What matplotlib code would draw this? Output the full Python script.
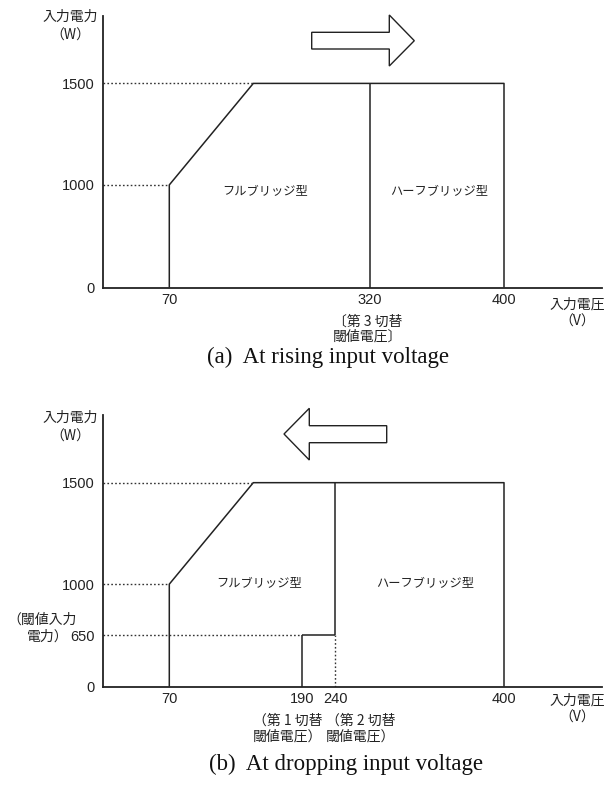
import numpy as np
import matplotlib.pyplot as plt
from matplotlib.patches import Polygon

#
#   Input power vs input voltage, full bridge / half bridge regions
#

W, H = 616, 789
JP = ["Noto Sans CJK JP", "DejaVu Sans"]
NUM = ["Liberation Sans", "DejaVu Sans"]

# data
ramp_v = 150          # knee of the ramp (not labelled)
outline_v = [70, 70, ramp_v, 400, 400]
outline_w = [0, 1000, 1500, 1500, 0]

a_switch_v = 320
a_xticks = [70, 320, 400]
a_yticks = [0, 1000, 1500]

b_switch1_v = 190
b_switch2_v = 240
threshold_w = 650
b_xticks = [70, 190, 240, 400]
b_yticks = [0, 650, 1000, 1500]

# the drawing is schematic: axis positions are piecewise, not linear
volt_anchor = [0, 70, 150, 190, 240, 320, 400, 480]
volt_pos = [0, 66, 150, 199, 231.7, 266.7, 400.7, 498.7]
watt_anchor = [0, 650, 1000, 1500, 1830]
watt_pos = [0, 51.7, 102.6, 204.1, 271.8]


def fwd_x(v):
    return np.interp(v, volt_anchor, volt_pos)


def inv_x(p):
    return np.interp(p, volt_pos, volt_anchor)


def fwd_y(v):
    return np.interp(v, watt_anchor, watt_pos)


def inv_y(p):
    return np.interp(p, watt_pos, watt_anchor)


def fxy(px, py):
    # pixel position in the 616x789 picture -> figure fraction
    return px / W, 1 - py / H


def setup_axes(ax, xticks, yticks):
    ax.set_xscale("function", functions=(fwd_x, inv_x))
    ax.set_yscale("function", functions=(fwd_y, inv_y))
    ax.set_xlim(0, 480)
    ax.set_ylim(0, 1830)
    for s in ["top", "right"]:
        ax.spines[s].set_visible(False)
    for s in ["left", "bottom"]:
        ax.spines[s].set_linewidth(1.3)
        ax.spines[s].set_color("#222222")
    ax.set_xticks(xticks)
    ax.set_xticklabels([str(t) for t in xticks], fontfamily=NUM)
    ax.set_yticks(yticks)
    ax.set_yticklabels([str(t) for t in yticks], fontfamily=NUM)
    ax.tick_params(axis="x", length=0, labelsize=10.5, pad=4, colors="#222222")
    ax.tick_params(axis="y", length=0, labelsize=10.5, pad=6, colors="#222222")
    ax.minorticks_off()


line_kw = dict(color="#222222", lw=1.1, solid_capstyle="butt")
dot_kw = dict(color="#333333", lw=1.0, linestyle=(0, (1.2, 1.6)))

fig = plt.figure(figsize=(W / 100, H / 100), dpi=100)

# ---- (a) rising input voltage
ax1 = fig.add_axes([103.3 / W, 1 - 287.5 / H, 498.7 / W, 271.8 / H])
setup_axes(ax1, a_xticks, a_yticks)
ax1.plot(outline_v, outline_w, **line_kw)
ax1.plot([a_switch_v, a_switch_v], [0, 1500], **line_kw)
ax1.plot([0, 70], [1000, 1000], **dot_kw)
ax1.plot([0, ramp_v], [1500, 1500], **dot_kw)

# ---- (b) dropping input voltage
ax2 = fig.add_axes([103.3 / W, 1 - 686.7 / H, 498.7 / W, 271.7 / H])
setup_axes(ax2, b_xticks, b_yticks)
ax2.plot(outline_v, outline_w, **line_kw)
ax2.plot([b_switch2_v, b_switch2_v], [threshold_w, 1500], **line_kw)
ax2.plot([b_switch1_v, b_switch2_v], [threshold_w, threshold_w], **line_kw)
ax2.plot([b_switch1_v, b_switch1_v], [0, threshold_w], **line_kw)
ax2.plot([b_switch2_v, b_switch2_v], [0, threshold_w], **dot_kw)
ax2.plot([0, b_switch1_v], [threshold_w, threshold_w], **dot_kw)
ax2.plot([0, 70], [1000, 1000], **dot_kw)
ax2.plot([0, ramp_v], [1500, 1500], **dot_kw)

# region labels
for px, py, s in [(265.6, 191.7, "フルブリッジ型"), (438.7, 191.7, "ハーフブリッジ型"),
                  (259, 584, "フルブリッジ型"), (425, 584, "ハーフブリッジ型")]:
    fig.text(*fxy(px, py), s, fontsize=8.8, family=JP, ha="center", va="center",
             color="#222222")

# axis titles
for py in [26, 427]:
    fig.text(*fxy(70, py), "入力電力\n（W）", fontsize=10, family=JP, ha="center",
             va="center", linespacing=1.45, color="#222222")
for py in [313, 709]:
    fig.text(*fxy(577, py), "入力電圧\n（V）", fontsize=10, family=JP, ha="center",
             va="center", linespacing=1.3, color="#222222")

# threshold notes
fig.text(*fxy(333, 329), "〔第 3 切替\n閾値電圧〕", fontsize=10, family=JP,
         ha="left", va="center", linespacing=1.15, color="#222222")
fig.text(*fxy(253, 728.7), "（第 1 切替\n閾値電圧）", fontsize=10, family=JP,
         ha="left", va="center", linespacing=1.15, color="#222222")
fig.text(*fxy(326, 728.7), "（第 2 切替\n閾値電圧）", fontsize=10, family=JP,
         ha="left", va="center", linespacing=1.15, color="#222222")
fig.text(*fxy(77, 620), "（閾値入力", fontsize=10, family=JP,
         ha="right", va="center", color="#222222")
fig.text(*fxy(69, 636.5), "電力）", fontsize=10, family=JP,
         ha="right", va="center", color="#222222")

# direction arrows
arrow_a = [(311.7, 32.3), (389.3, 32.3), (389.3, 15), (414.3, 40.7),
           (389.3, 66), (389.3, 49), (311.7, 49)]
arrow_b = [(386.7, 425.7), (309.3, 425.7), (309.3, 408.3), (284, 434),
           (309.3, 460), (309.3, 442.7), (386.7, 442.7)]
for pts in [arrow_a, arrow_b]:
    fig.patches.append(Polygon([fxy(x, y) for x, y in pts], closed=True,
                               transform=fig.transFigure, facecolor="white",
                               edgecolor="#222222", lw=1.0))

# captions
fig.text(*fxy(328, 357), "(a)  At rising input voltage", fontsize=16.5,
         family=["Liberation Serif"], ha="center", va="center", color="#111111")
fig.text(*fxy(346, 764), "(b)  At dropping input voltage", fontsize=16.5,
         family=["Liberation Serif"], ha="center", va="center", color="#111111")

fig.savefig("out.png", dpi=100)
